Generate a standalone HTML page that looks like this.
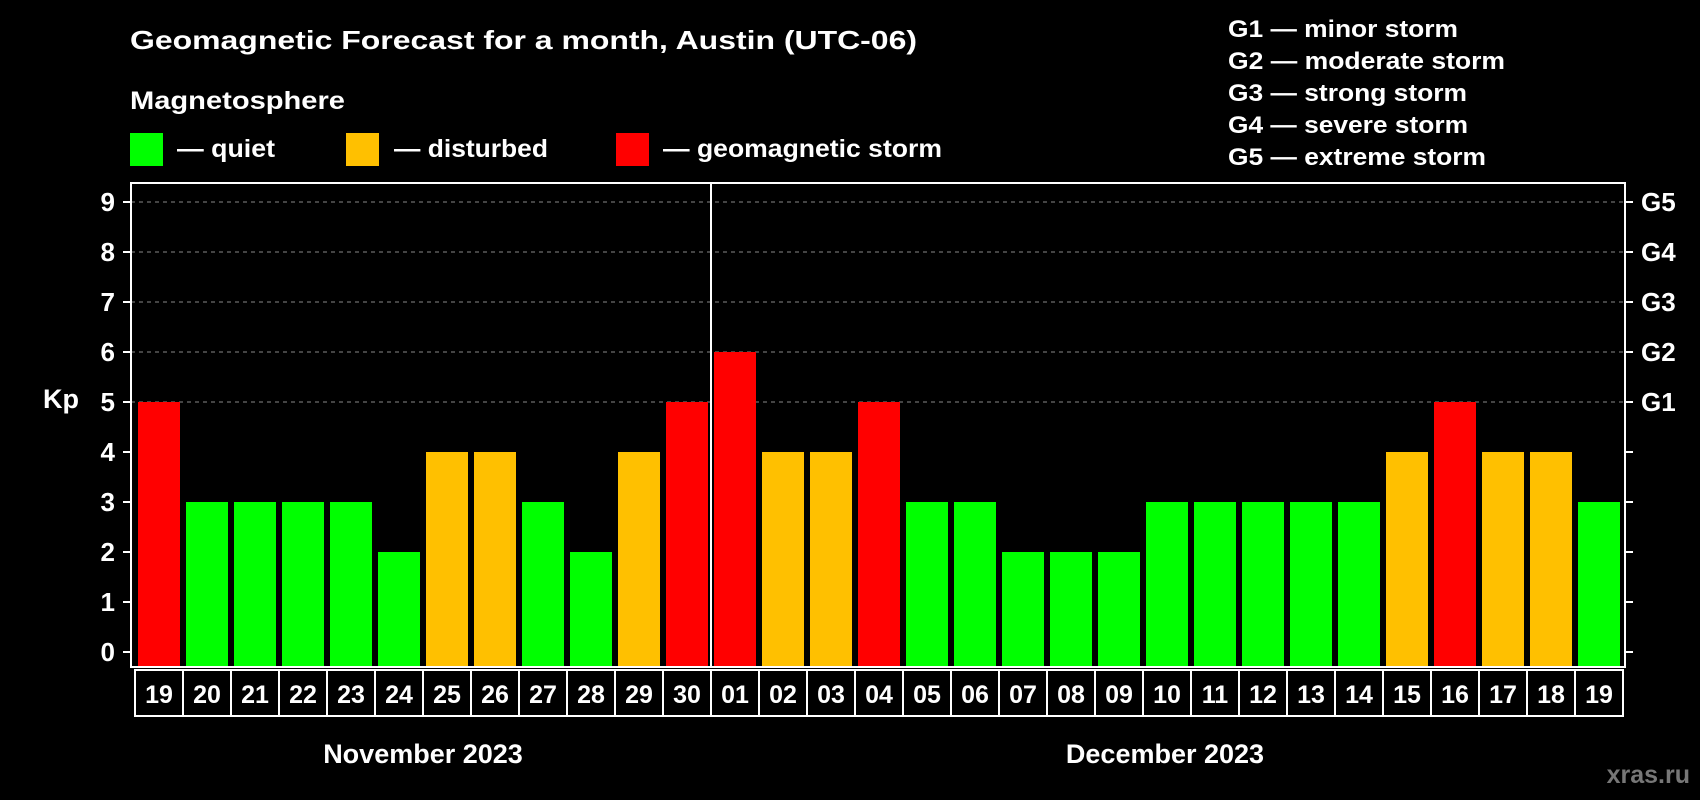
<!DOCTYPE html>
<html><head><meta charset="utf-8"><style>
html,body{margin:0;padding:0;background:#000;}
svg{display:block;font-family:"Liberation Sans",Arial,sans-serif;font-weight:bold;}
</style></head><body>
<svg id="chart" width="1700" height="800" viewBox="0 0 1700 800" xmlns="http://www.w3.org/2000/svg">
<rect width="1700" height="800" fill="#000"/>
<text x="130" y="49" fill="#fff" font-size="26" textLength="787" lengthAdjust="spacingAndGlyphs">Geomagnetic Forecast for a month, Austin (UTC-06)</text>
<text x="130" y="109" fill="#fff" font-size="25" textLength="215" lengthAdjust="spacingAndGlyphs">Magnetosphere</text>
<g>
<rect x="130" y="133" width="33" height="33" fill="#00ff00"/>
<text x="177" y="157" fill="#fff" font-size="25" textLength="98" lengthAdjust="spacingAndGlyphs">— quiet</text></g>
<g>
<rect x="346" y="133" width="33" height="33" fill="#ffc000"/>
<text x="394" y="157" fill="#fff" font-size="25" textLength="154" lengthAdjust="spacingAndGlyphs">— disturbed</text></g>
<g>
<rect x="616" y="133" width="33" height="33" fill="#ff0000"/>
<text x="663" y="157" fill="#fff" font-size="25" textLength="279" lengthAdjust="spacingAndGlyphs">— geomagnetic storm</text></g>
<g fill="#fff" font-size="24">
<text x="1228" y="37" textLength="230" lengthAdjust="spacingAndGlyphs">G1 — minor storm</text>
<text x="1228" y="69" textLength="277" lengthAdjust="spacingAndGlyphs">G2 — moderate storm</text>
<text x="1228" y="101" textLength="239" lengthAdjust="spacingAndGlyphs">G3 — strong storm</text>
<text x="1228" y="133" textLength="240" lengthAdjust="spacingAndGlyphs">G4 — severe storm</text>
<text x="1228" y="165" textLength="258" lengthAdjust="spacingAndGlyphs">G5 — extreme storm</text>
</g>
<text x="43" y="408" fill="#fff" font-size="27">Kp</text>
<g id="plot"></g>
<text x="423" y="763" fill="#fff" font-size="27" text-anchor="middle">November 2023</text>
<text x="1165" y="763" fill="#fff" font-size="27" text-anchor="middle">December 2023</text>
<text x="1690" y="783" fill="#777" font-size="25" text-anchor="end">xras.ru</text>
</svg>
<script>
const days = ["19","20","21","22","23","24","25","26","27","28","29","30","01","02","03","04","05","06","07","08","09","10","11","12","13","14","15","16","17","18","19"];
const kpValues = [5,3,3,3,3,2,4,4,3,2,4,5,6,4,4,5,3,3,2,2,2,3,3,3,3,3,4,5,4,4,3];
const yTicks = [0,1,2,3,4,5,6,7,8,9];
const gLabels = ["G1","G2","G3","G4","G5"];
const gLevels = [5,6,7,8,9];
const monthSplitIndex = 12;

const NS="http://www.w3.org/2000/svg";
const g=document.getElementById('plot');
const L=131,R=1625,T=183,B=667,X0=135,STEP=(1623-135)/days.length;
function y(v){return 652-v*50;}
function x(i){return X0+i*STEP;}
function mk(t,a,p){const e=document.createElementNS(NS,t);for(const k in a)e.setAttribute(k,a[k]);(p||g).appendChild(e);return e;}
function col(v){return v>=5?"#ff0000":(v>=4?"#ffc000":"#00ff00");}

yTicks.forEach(v=>{
  if(v>=5){const ln=mk('line',{x1:L,x2:R,y1:y(v),y2:y(v),stroke:'#888','stroke-width':1,'stroke-dasharray':'4,4'});
  
  }
  const tl=mk('line',{x1:L-8,x2:L,y1:y(v),y2:y(v),stroke:'#fff','stroke-width':2});
  
  
  const tr=mk('line',{x1:R,x2:R+8,y1:y(v),y2:y(v),stroke:'#fff','stroke-width':2});
  
  
  const t=mk('text',{x:115,y:y(v)+9,fill:'#fff','font-size':26,'text-anchor':'end'});
  t.textContent=v;
  
  
});
gLabels.forEach((s,i)=>{
  const t=mk('text',{x:1641,y:y(gLevels[i])+9,fill:'#fff','font-size':26});
  t.textContent=s;
  
  
});
kpValues.forEach((v,i)=>{
  const b=mk('rect',{x:x(i)+3,y:y(v),width:STEP-6,height:B-y(v),fill:col(v)});
  
  
  const c=mk('rect',{x:x(i),y:670,width:STEP,height:46,fill:'none',stroke:'#fff','stroke-width':2});
  
  
  const t=mk('text',{x:x(i)+STEP/2,y:703,fill:'#fff','font-size':25,'text-anchor':'middle'});
  t.textContent=days[i];
  
  
});
const fr=mk('rect',{x:L,y:T,width:R-L,height:B-T,fill:'none',stroke:'#fff','stroke-width':2});


const sx=x(monthSplitIndex);
const sp=mk('line',{x1:sx,x2:sx,y1:T,y2:B,stroke:'#fff','stroke-width':2});


</script>
</body></html>
